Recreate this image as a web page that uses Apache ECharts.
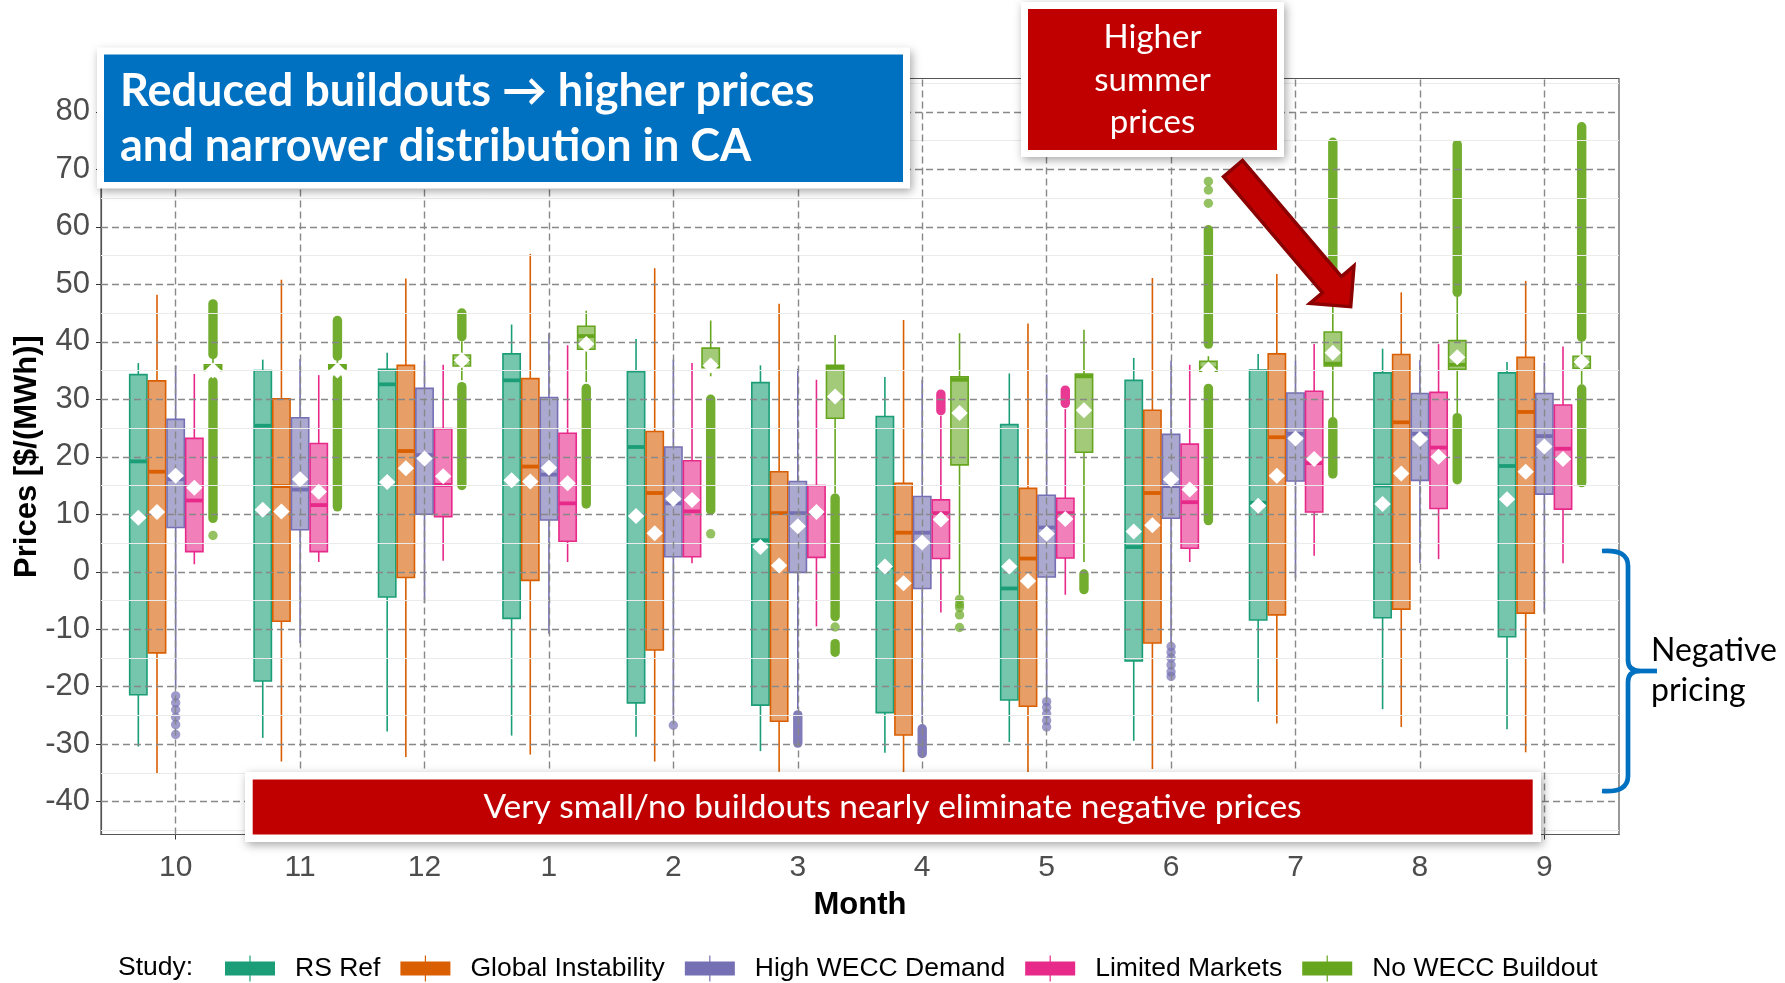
<!DOCTYPE html>
<html><head><meta charset="utf-8">
<script src="https://cdn.jsdelivr.net/npm/echarts@6/dist/echarts.min.js"></script>
<style>html,body{margin:0;padding:0;background:#fff}#c{width:1785px;height:983px}</style>
</head><body><div id="c"></div>
<script>
// ---------------- DATA ----------------
const months = ['10','11','12','1','2','3','4','5','6','7','8','9'];
const studies = ['RS Ref','Global Instability','High WECC Demand','Limited Markets','No WECC Buildout'];
const yTicks = [-40,-30,-20,-10,0,10,20,30,40,50,60,70,80];
const yMinor = [-45,-35,-25,-15,-5,5,15,25,35,45,55,65,75,85];

// per month: [lower whisker, Q1, median, Q3, upper whisker]
const rsRefStats = [
 [-30.4,-21.4,19.2,34.3,36.3],[-28.9,-19.0,25.4,35.0,36.9],[-27.8,-4.4,32.6,35.2,38.1],
 [-28.5,-8.1,33.3,37.9,43.0],[-28.7,-22.8,21.7,34.8,40.5],[-31.2,-23.2,5.5,32.9,35.9],
 [-31.5,-24.5,0.8,27.0,33.9],[-29.6,-22.3,-2.9,25.6,34.5],[-29.4,-15.5,4.3,33.3,37.2],
 [-22.6,-8.4,12.0,35.1,37.9],[-23.9,-8.0,15.0,34.6,38.8],[-27.4,-11.3,18.4,34.6,36.5]];
const rsRefMean = [9.4,10.8,15.6,15.9,9.7,4.3,0.9,0.9,7.0,11.5,11.8,12.6];

const globalStats = [
 [-35.0,-14.1,17.4,33.2,48.2],[-33.0,-8.6,14.9,30.1,50.8],[-32.2,-1.0,21.0,35.9,51.0],
 [-31.8,-1.5,18.3,33.6,55.3],[-33.0,-13.6,13.7,24.4,52.8],[-34.8,-26.0,10.2,17.4,46.6],
 [-34.9,-28.4,6.8,15.4,43.8],[-34.9,-23.4,2.3,14.5,43.2],[-34.3,-12.4,13.7,28.1,51.1],
 [-26.4,-7.5,23.4,37.9,51.8],[-27.0,-6.5,26.0,37.8,48.6],[-31.4,-7.2,27.8,37.3,50.6]];
const globalMean = [10.4,10.5,18.0,15.7,6.7,1.1,-2.0,-1.6,8.1,16.7,17.1,17.4];

const highWeccStats = [
 [-20.3,7.7,16.1,26.5,35.9],[-12.4,7.3,14.3,26.8,37.0],[-5.4,10.0,20.3,31.9,36.7],
 [-10.8,9.0,16.9,30.3,41.5],[-25.5,2.6,11.9,21.7,36.9],[-23.9,-0.1,10.2,15.7,35.3],
 [-26.2,-2.9,6.8,13.1,33.4],[-21.9,-0.9,7.7,13.3,34.3],[-12.3,9.3,14.9,23.9,36.7],
 [-1.1,15.8,24.0,31.1,36.7],[1.5,15.9,24.0,31.0,36.8],[-7.1,13.5,23.6,31.0,36.4]];
const highWeccMean = [16.7,16.1,19.7,18.1,12.7,7.9,5.1,6.6,16.1,23.2,23.1,21.8];

const limitedStats = [
 [1.3,3.5,12.4,23.2,34.4],[1.7,3.5,11.6,22.3,34.2],[1.9,9.6,15.1,24.9,36.0],
 [1.7,5.3,11.9,24.1,39.4],[1.5,2.6,10.5,19.3,36.3],[-9.5,2.5,10.2,15.0,33.4],
 [-7.1,2.3,10.2,12.5,27.1],[-4.0,2.4,10.2,12.8,28.3],[1.7,4.1,12.1,22.2,36.0],
 [2.8,10.4,18.9,31.4,39.6],[2.2,11.0,21.6,31.2,39.6],[1.5,10.9,21.4,29.0,39.2]];
const limitedMean = [14.6,13.9,16.6,15.4,12.5,10.4,9.1,9.2,14.3,19.6,20.0,19.6];

const noWeccStats = [
 [34.2,35.0,35.5,36.0,37.0],[34.5,35.3,35.6,36.0,36.7],[33.3,35.8,36.8,37.7,40.1],
 [33.0,38.7,41.0,42.7,45.4],[34.0,35.5,35.8,38.9,43.7],[13.6,26.7,35.5,35.9,41.2],
 [-4.0,18.6,33.4,33.9,41.5],[1.7,20.8,34.0,34.4,42.1],[34.5,34.9,35.4,36.6,37.5],
 [26.9,35.8,36.2,41.7,46.5],[27.6,35.2,36.0,40.2,47.8],[32.6,35.4,36.4,37.5,40.0]];
const noWeccMean = [35.0,35.0,36.8,39.6,35.9,30.5,27.6,28.1,35.2,38.1,37.3,36.5];

// single outliers: [month index, value]
const rsRefOutliers = [];
const globalOutliers = [];
const highWeccOutliers = [
 [0,-21.6],[0,-22.8],[0,-24.0],[0,-25.3],[0,-26.6],[0,-28.3],[4,-26.7],
 [7,-22.6],[7,-23.6],[7,-24.7],[7,-25.9],[7,-27.0],
 [8,-13.0],[8,-14.0],[8,-15.0],[8,-16.2],[8,-17.4],[8,-18.2]];
const limitedOutliers = [];
const noWeccOutliers = [[0,6.3],[4,6.6],[5,-9.6],[6,-4.8],[6,-5.6],[6,-6.2],[6,-7.5],[6,-9.7],[8,64.1],[8,66.4],[8,67.9]];

// dense runs of overlapping outliers: [month index, from, to]
const rsRefBands = [];
const globalBands = [];
const highWeccBands = [[5,-24.9,-29.8],[6,-27.3,-31.6]];
const limitedBands = [[6,28.0,30.9],[7,29.3,31.6]];
const noWeccBands = [
 [0,37.8,46.6],[0,9.3,33.1],[1,37.5,43.7],[1,11.3,33.7],[2,40.9,45.0],[2,15.0,32.2],
 [3,11.8,31.9],[4,10.7,30.0],[5,-7.8,12.8],[5,-14.0,-12.5],[7,-3.1,-0.4],
 [8,39.6,59.5],[8,8.9,31.9],[9,48.3,74.7],[9,17.0,26.1],[10,48.6,74.3],[10,16.0,26.8],
 [11,40.8,77.4],[11,15.5,31.8]];

// ---------------- STYLE ----------------
const colors = ['#1B9E77','#D95F02','#7570B3','#E7298A','#66A61E'];
const fills = ['rgba(27,158,119,0.6)','rgba(217,95,2,0.6)','rgba(117,112,179,0.6)','rgba(231,41,138,0.6)','rgba(102,166,30,0.6)'];
const statsAll = [rsRefStats, globalStats, highWeccStats, limitedStats, noWeccStats];
const meanAll = [rsRefMean, globalMean, highWeccMean, limitedMean, noWeccMean];
const outAll = [rsRefOutliers, globalOutliers, highWeccOutliers, limitedOutliers, noWeccOutliers];
const bandAll = [rsRefBands, globalBands, highWeccBands, limitedBands, noWeccBands];
const dodge = 0.15, boxW = 0.139;
const off = s => (s - 2) * dodge;

const series = [];
// gridlines
series.push({
  type: 'line', data: [], silent: true, z: 1,
  markLine: {
    silent: true, symbol: 'none', label: {show: false}, animation: false,
    data: [
      ...yMinor.map(v => ({yAxis: v, lineStyle: {color: '#ebebeb', width: 1, type: 'solid'}})),
      ...yTicks.map(v => ({yAxis: v, lineStyle: {color: '#888888', width: 1.4, type: [7, 4]}})),
      ...months.map((m, i) => ({xAxis: i, lineStyle: {color: '#888888', width: 1.4, type: [7, 4]}}))
    ]
  }
});

studies.forEach((name, s) => {
  const col = colors[s], fill = fills[s];
  series.push({
    type: 'custom', name, z: 3, itemStyle: {color: col},
    data: outAll[s].map(d => [d[0] + off(s), d[1]]),
    renderItem: (p, api) => {
      const c = api.coord([api.value(0), api.value(1)]);
      return {type: 'circle', shape: {cx: c[0], cy: c[1], r: 4.7}, style: {fill: col, opacity: 0.7}};
    }
  });
  series.push({
    type: 'custom', name, z: 3, itemStyle: {color: col},
    data: bandAll[s].map(d => [d[0] + off(s), d[1], d[2]]),
    renderItem: (p, api) => {
      const a = api.coord([api.value(0), api.value(1)]);
      const b = api.coord([api.value(0), api.value(2)]);
      return {type: 'line', shape: {x1: a[0], y1: a[1], x2: b[0], y2: b[1]},
              style: {stroke: col, lineWidth: 9.4, lineCap: 'round', opacity: 0.92}};
    }
  });
  series.push({
    type: 'custom', name, z: 4, itemStyle: {color: col},
    data: statsAll[s].map((r, i) => [i + off(s), ...r]),
    renderItem: (p, api) => {
      const x = api.value(0);
      const pt = k => api.coord([x, api.value(k)]);
      const lo = pt(1), q1 = pt(2), md = pt(3), q3 = pt(4), hi = pt(5);
      const hw = api.size([boxW, 0])[0] / 2;
      const cx = lo[0];
      return {type: 'group', children: [
        {type: 'line', shape: {x1: cx, y1: hi[1], x2: cx, y2: q3[1]}, style: {stroke: col, lineWidth: 1.6}},
        {type: 'line', shape: {x1: cx, y1: q1[1], x2: cx, y2: lo[1]}, style: {stroke: col, lineWidth: 1.6}},
        {type: 'rect', shape: {x: cx - hw, y: q3[1], width: hw * 2, height: q1[1] - q3[1]},
         style: {fill, stroke: col, lineWidth: 1.6}},
        {type: 'line', shape: {x1: cx - hw, y1: md[1], x2: cx + hw, y2: md[1]}, style: {stroke: col, lineWidth: 3.8}}
      ]};
    }
  });
});
// means (white diamonds) on top
const meanData = [];
meanAll.forEach((arr, s) => arr.forEach((v, i) => meanData.push([i + off(s), v])));
series.push({
  type: 'custom', name: 'mean', z: 6, data: meanData,
  renderItem: (p, api) => {
    const c = api.coord([api.value(0), api.value(1)]);
    const w = 8.2, h = 8;
    return {type: 'polygon', shape: {points: [[c[0], c[1] - h], [c[0] + w, c[1]], [c[0], c[1] + h], [c[0] - w, c[1]]]},
            style: {fill: '#ffffff'}};
  }
});

// ---------------- ANNOTATION GEOMETRY ----------------
const arrowTail = [1233, 168.5], arrowTip = [1350.7, 306.7];
function arrowPoints(t, h, shaftHalf, headHalf, headLen) {
  const dx = h[0] - t[0], dy = h[1] - t[1], L = Math.hypot(dx, dy);
  const u = [dx / L, dy / L], n = [-u[1], u[0]];
  const nk = [h[0] - u[0] * headLen, h[1] - u[1] * headLen];
  const P = (b, k) => [b[0] + n[0] * k, b[1] + n[1] * k];
  return [P(t, shaftHalf), P(nk, shaftHalf), P(nk, headHalf), h, P(nk, -headHalf), P(nk, -shaftHalf), P(t, -shaftHalf)];
}
const shadow = {shadowBlur: 9, shadowColor: 'rgba(0,0,0,0.35)', shadowOffsetX: 2, shadowOffsetY: 3};
const annFont = 'Lato, "Open Sans", sans-serif';
const brace = {stroke: '#0070C0', lineWidth: 4.7, fill: 'none'};
const bz = (x1, y1, cx, cy, x2, y2) => ({type: 'bezierCurve', z: 100, shape: {x1, y1, cpx1: cx, cpy1: cy, x2, y2}, style: brace});
const ln = (x1, y1, x2, y2) => ({type: 'line', z: 100, shape: {x1, y1, x2, y2}, style: brace});

const chart = echarts.init(document.getElementById('c'), null, {renderer: 'canvas'});
chart.setOption({
  animation: false,
  backgroundColor: '#ffffff',
  textStyle: {fontFamily: '"Liberation Sans", Arial, sans-serif'},
  grid: {left: 101, right: 166, top: 78.5, bottom: 148.5, show: true, borderColor: '#555', borderWidth: 1.2,
         backgroundColor: '#fff', containLabel: false, outerBoundsMode: 'none'},
  xAxis: {
    type: 'value', min: -0.6, max: 11.6,
    splitLine: {show: false},
    axisLine: {show: true, onZero: false, lineStyle: {color: '#555', width: 1.2}},
    axisTick: {show: true, customValues: months.map((m, i) => i), length: 5, lineStyle: {color: '#333'}},
    axisLabel: {customValues: months.map((m, i) => i), formatter: v => months[Math.round(v)], fontSize: 30, color: '#4d4d4d', margin: 18},
    name: 'Month', nameLocation: 'middle', nameGap: 55, nameMoveOverlap: false,
    nameTextStyle: {fontSize: 31, fontWeight: 'bold', color: '#000'}
  },
  yAxis: {
    type: 'value', min: -45.7, max: 85.8,
    splitLine: {show: false},
    axisLine: {show: true, onZero: false, lineStyle: {color: '#555', width: 1.2}},
    axisTick: {show: true, customValues: yTicks, length: 5, lineStyle: {color: '#333'}},
    axisLabel: {customValues: yTicks, fontSize: 31, color: '#4d4d4d', margin: 11},
    name: 'Prices [$/(MWh)]', nameLocation: 'middle', nameGap: 58, nameMoveOverlap: false,
    nameTextStyle: {fontSize: 31, fontWeight: 'bold', color: '#000'}
  },
  legend: {
    data: studies, left: 220, top: 950, itemGap: 20,
    itemWidth: 50, itemHeight: 26,
    icon: 'path://M0,6 L50,6 L50,20 L0,20 Z M24.4,0 L25.6,0 L25.6,26 L24.4,26 Z',
    textStyle: {fontSize: 26.5, color: '#000', padding: [0, 0, 0, 15]},
    selectedMode: false
  },
  series,
  graphic: [
    {type: 'text', z: 100, x: 118, y: 968, style: {text: 'Study:', fontSize: 26.5, fontFamily: '"Liberation Sans", Arial', fill: '#000', verticalAlign: 'middle'}},
    // blue message box
    {type: 'rect', z: 100, shape: {x: 97, y: 47.5, width: 813, height: 141}, style: Object.assign({fill: '#fff'}, shadow)},
    {type: 'rect', z: 101, shape: {x: 104, y: 54.5, width: 799, height: 127.5}, style: {fill: '#0070C0'}},
    {type: 'text', z: 102, x: 120, y: 91, style: {text: 'Reduced buildouts \u2192 higher prices', fontSize: 45, fontWeight: 'bold', fontFamily: annFont, fill: '#fff', verticalAlign: 'middle'}},
    {type: 'text', z: 102, x: 120, y: 146, style: {text: 'and narrower distribution in CA', fontSize: 45, fontWeight: 'bold', fontFamily: annFont, fill: '#fff', verticalAlign: 'middle'}},
    // summer box
    {type: 'rect', z: 100, shape: {x: 1021, y: 2, width: 263, height: 155}, style: Object.assign({fill: '#fff'}, shadow)},
    {type: 'rect', z: 101, shape: {x: 1028, y: 9, width: 249, height: 141}, style: {fill: '#C00000'}},
    {type: 'text', z: 102, x: 1152.5, y: 37, style: {text: 'Higher', fontSize: 33, fontFamily: annFont, fill: '#fff', align: 'center', verticalAlign: 'middle'}},
    {type: 'text', z: 102, x: 1152.5, y: 80, style: {text: 'summer', fontSize: 33, fontFamily: annFont, fill: '#fff', align: 'center', verticalAlign: 'middle'}},
    {type: 'text', z: 102, x: 1152.5, y: 122, style: {text: 'prices', fontSize: 33, fontFamily: annFont, fill: '#fff', align: 'center', verticalAlign: 'middle'}},
    // arrow
    {type: 'polygon', z: 103, shape: {points: arrowPoints(arrowTail, arrowTip, 12.5, 29, 29)},
     style: {fill: '#C00000', stroke: '#8B0000', lineWidth: 3.5, lineJoin: 'miter'}},
    // bottom banner
    {type: 'rect', z: 100, shape: {x: 245, y: 772, width: 1296, height: 70}, style: Object.assign({fill: '#fff'}, shadow)},
    {type: 'rect', z: 101, shape: {x: 252.7, y: 779.5, width: 1280, height: 55}, style: {fill: '#C00000'}},
    {type: 'text', z: 102, x: 892.5, y: 807, style: {text: 'Very small/no buildouts nearly eliminate negative prices', fontSize: 33.5, fontFamily: annFont, fill: '#fff', align: 'center', verticalAlign: 'middle'}},
    // bracket
    bz(1602, 551, 1628, 549, 1628, 566), ln(1628, 566, 1628, 660), bz(1628, 660, 1628, 671, 1640, 671),
    ln(1640, 671, 1657, 671), bz(1640, 671, 1628, 671, 1628, 682), ln(1628, 682, 1628, 776),
    bz(1628, 776, 1628, 793, 1602, 791),
    {type: 'text', z: 100, x: 1651, y: 651, style: {text: 'Negative', fontSize: 32, fontFamily: annFont, fill: '#000', verticalAlign: 'middle'}},
    {type: 'text', z: 100, x: 1651, y: 691, style: {text: 'pricing', fontSize: 32, fontFamily: annFont, fill: '#000', verticalAlign: 'middle'}}
  ]
});
</script></body></html>
